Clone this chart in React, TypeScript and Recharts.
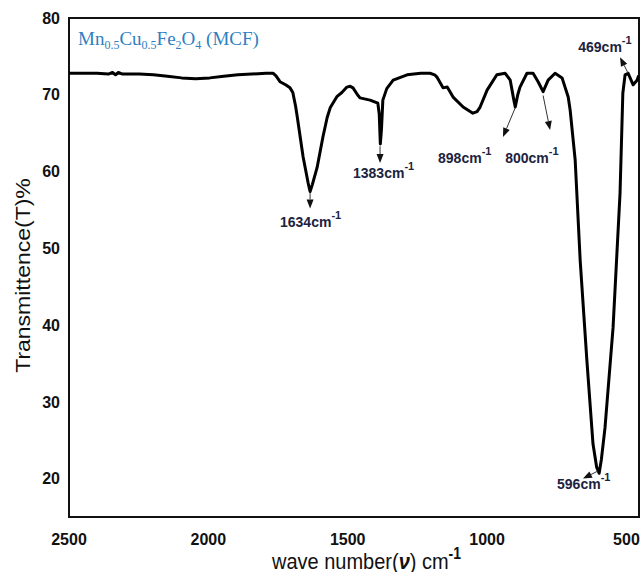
import React from 'react';
import { LineChart, Line, XAxis, YAxis, ReferenceLine, ReferenceArea, ReferenceDot } from 'recharts';

// wavenumber (cm^-1) and transmittance (%)
const wavenumbers = [
  2500, 2450, 2399, 2359, 2344, 2333, 2323, 2308, 2288, 2248, 2197, 2147, 2096, 2046, 1995, 1945, 1894, 1844, 1793,
  1768, 1758, 1743, 1723, 1707, 1697, 1687, 1681, 1660, 1642, 1635, 1627, 1610, 1589, 1574, 1563, 1538, 1521, 1503,
  1491, 1481, 1465, 1456, 1420, 1392, 1387, 1383, 1379, 1374, 1360, 1337, 1287, 1238, 1205, 1188, 1180, 1158, 1143,
  1122, 1086, 1051, 1036, 1025, 1000, 965, 935, 917, 905, 899, 890, 882, 857, 835, 817, 799, 781, 756, 731, 709, 702,
  684, 666, 642, 620, 607, 598, 590, 577, 548, 523, 513, 505, 494, 476, 462, 456,
];
const transmittance = [
  72.8, 72.8, 72.8, 72.7, 72.9, 72.6, 72.9, 72.7, 72.7, 72.7, 72.6, 72.4, 72.2, 72.1, 72.2, 72.4, 72.6, 72.7, 72.8,
  72.8, 72.5, 71.7, 71.3, 70.9, 70.3, 68.5, 67.1, 61.9, 58.5, 57.4, 58.3, 60.5, 64.5, 67.0, 68.3, 69.8, 70.3, 71.0,
  71.1, 70.9, 70.0, 69.6, 69.3, 68.9, 67.5, 63.6, 65.5, 69.3, 70.8, 71.9, 72.6, 72.8, 72.8, 72.6, 72.3, 70.9, 71.0,
  69.7, 68.4, 67.6, 67.8, 68.4, 70.6, 72.6, 72.8, 71.9, 69.5, 68.4, 70.0, 71.0, 72.8, 72.8, 71.7, 70.4, 71.9, 72.8, 72.2, 69.7, 68.0,
  61.5, 48.4, 35.4, 24.5, 21.5, 20.7, 22.5, 26.6, 39.7, 57.2, 70.2, 72.6, 72.8, 71.3, 71.9, 72.5,
];

const xTicks = [2500, 2000, 1500, 1000, 500];
const yTicks = [20, 30, 40, 50, 60, 70, 80];
const xDomain = [455, 2500];
const yDomain = [15, 80];

// peak annotations: label, arrow start/end (wavenumber, %T), text anchor (wavenumber, %T)
const peakLabels = ['1634', '1383', '898', '800', '596', '469'];
const arrowFrom = [[1635, 57.2], [1384, 63.3], [899, 68.3], [799, 69.9], [602, 21.0], [494, 72.8]];
const arrowTo = [[1635, 55.2], [1384, 61.1], [943, 64.5], [774, 65.4], [656, 20.0], [523, 74.9]];
const textAt = [[1743, 52.8], [1481, 59.1], [1176, 61.1], [935, 61.1], [749, 18.6], [673, 75.6]];

const data = wavenumbers.map((w, i) => ({ w, t: transmittance[i] }));

const SANS = 'Liberation Sans, Arial, Helvetica, sans-serif';
const SERIF = 'Liberation Serif, Times New Roman, serif';

const Arrow = (p: any) => {
  const { x1, y1, x2, y2 } = p;
  const dx = x2 - x1;
  const dy = y2 - y1;
  const len = Math.hypot(dx, dy) || 1;
  const ux = dx / len;
  const uy = dy / len;
  const hl = 9;
  const hw = 3.5;
  const bx = x2 - ux * hl;
  const by = y2 - uy * hl;
  const pts = `${x2},${y2} ${bx - uy * hw},${by + ux * hw} ${bx + uy * hw},${by - ux * hw}`;
  return (
    <g>
      <line x1={x1} y1={y1} x2={bx} y2={by} stroke="#333" strokeWidth={1} />
      <polygon points={pts} fill="#111" />
    </g>
  );
};

const makePeakText = (label: string) => (props: any) => {
  const vb = props.viewBox || {};
  return (
    <text x={vb.x} y={vb.y} fill="#1c2340" fontFamily={SANS} fontWeight="bold" fontSize={14}>
      {label}cm
      <tspan dy={-8} fontSize={11}>-1</tspan>
    </text>
  );
};

const TitleLabel = (props: any) => {
  const vb = props.viewBox || {};
  const x = vb.x + 9;
  const y = vb.y + 27;
  return (
    <text x={x} y={y} fill="#2f7fc1" fontFamily={SERIF} fontSize={19}>
      Mn
      <tspan fontSize={12} dy={4}>0.5</tspan>
      <tspan dy={-4}>Cu</tspan>
      <tspan fontSize={12} dy={4}>0.5</tspan>
      <tspan dy={-4}>Fe</tspan>
      <tspan fontSize={12} dy={4}>2</tspan>
      <tspan dy={-4}>O</tspan>
      <tspan fontSize={12} dy={4}>4</tspan>
      <tspan dy={-4}> (MCF)</tspan>
    </text>
  );
};

const YTitle = (props: any) => {
  const vb = props.viewBox || {};
  const cy = vb.y + vb.height / 2 + 8;
  return (
    <text
      transform={`translate(30,${cy}) rotate(-90) scale(1.15,1)`}
      x={0}
      y={0}
      textAnchor="middle"
      fill="#111"
      fontFamily={SANS}
      fontSize={20}
    >
      Transmittence(T)%
    </text>
  );
};

const XTitle = (props: any) => {
  const vb = props.viewBox || {};
  const x = vb.x + vb.width / 2 - 82;
  return (
    <text transform={`translate(${x},569) scale(1,1.12)`} x={0} y={0} fill="#111" fontFamily={SANS} fontSize={20}>
      wave number(
      <tspan fontStyle="italic" fontWeight="bold">ν</tspan>
      ) cm
      <tspan dy={-9} fontSize={14} fontWeight="bold">-1</tspan>
    </text>
  );
};

export default function App() {
  return (
    <div style={{ position: 'absolute', left: 0, top: 0, background: '#fff' }}>
      <LineChart width={644} height={572} data={data} margin={{ top: 18, right: 5, bottom: 0, left: 0 }}>
        <XAxis
          dataKey="w"
          type="number"
          domain={xDomain}
          reversed
          ticks={xTicks}
          interval={0}
          allowDataOverflow
          axisLine={false}
          tickLine={false}
          tickSize={0}
          tickMargin={17}
          height={55}
          tick={{ fill: '#111', fontSize: 16, fontWeight: 'bold', fontFamily: SANS }}
          label={{ content: XTitle }}
        />
        <YAxis
          type="number"
          domain={yDomain}
          ticks={yTicks}
          interval={0}
          allowDataOverflow
          axisLine={false}
          tickLine={false}
          tickSize={0}
          tickMargin={9}
          width={69}
          tick={{ fill: '#111', fontSize: 16, fontWeight: 'bold', fontFamily: SANS }}
          label={{ content: YTitle }}
        />
        <ReferenceArea
          x1={xDomain[1]}
          x2={xDomain[0]}
          y1={yDomain[0]}
          y2={yDomain[1]}
          fill="none"
          fillOpacity={0}
          stroke="#111"
          strokeWidth={2}
          label={{ content: TitleLabel }}
        />
        <Line
          type="linear"
          dataKey="t"
          stroke="#000"
          strokeWidth={3}
          dot={false}
          strokeLinejoin="round"
          isAnimationActive={false}
        />
        {peakLabels.map((lab, i) => (
          <ReferenceLine
            key={`a${lab}`}
            segment={[
              { x: arrowFrom[i][0], y: arrowFrom[i][1] },
              { x: arrowTo[i][0], y: arrowTo[i][1] },
            ]}
            stroke="#333"
            shape={Arrow}
            ifOverflow="visible"
          />
        ))}
        {peakLabels.map((lab, i) => (
          <ReferenceDot
            key={`t${lab}`}
            x={textAt[i][0]}
            y={textAt[i][1]}
            r={0}
            fill="none"
            stroke="none"
            ifOverflow="visible"
            label={{ content: makePeakText(lab) }}
          />
        ))}
      </LineChart>
    </div>
  );
}
